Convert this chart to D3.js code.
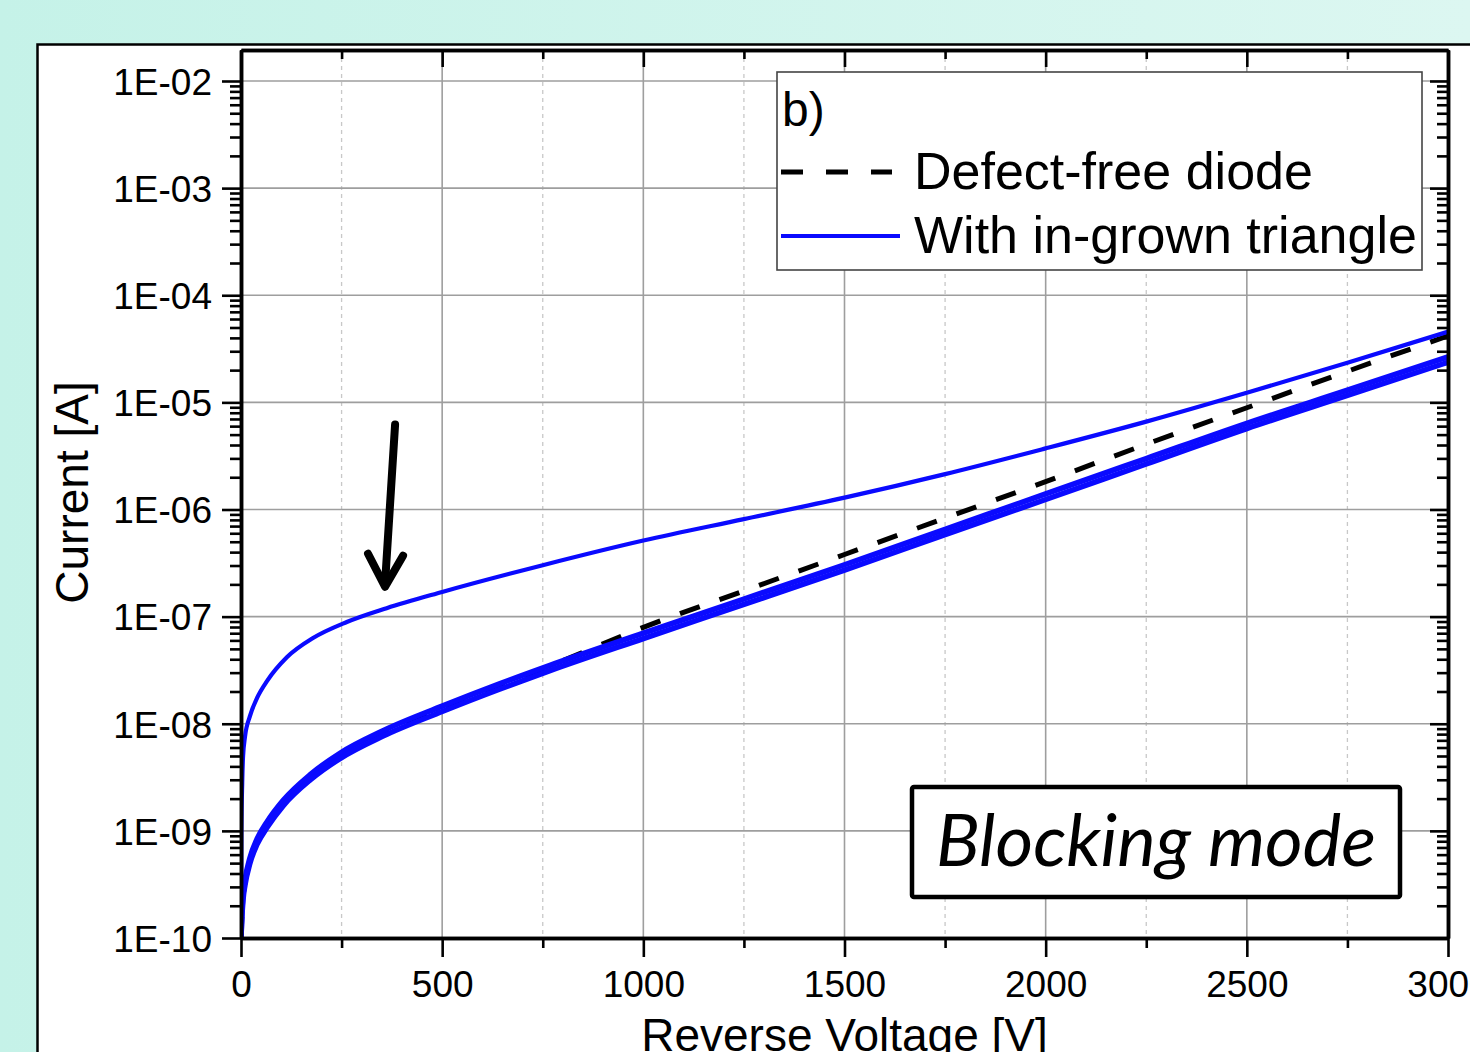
<!DOCTYPE html>
<html>
<head>
<meta charset="utf-8">
<script src="https://cdn.jsdelivr.net/npm/d3@7"></script>
<style>
  html, body { margin: 0; padding: 0; overflow: hidden; background: #c6f3e9; }
  svg { display: block; }
</style>
</head>
<body>
<script>
// ---------------- DATA ----------------
// Reverse voltage (V) and current (A)
const upperVoltage = [0, 1, 3, 5, 10, 22, 40, 65, 114, 179, 263, 362, 500, 750, 1000, 1250, 1500, 1750, 2000, 2250, 2500, 2750, 3000];
const upperCurrent = [1e-10, 1e-9, 2.82e-9, 4.90e-9, 7.59e-9, 1.17e-8, 1.74e-8, 2.51e-8, 4.17e-8, 6.31e-8, 8.91e-8, 1.20e-7, 1.70e-7, 3.02e-7, 5.13e-7, 8.13e-7, 1.29e-6, 2.14e-6, 3.72e-6, 6.61e-6, 1.23e-5, 2.34e-5, 4.57e-5];

const lowerVoltage = [0, 2, 5, 10, 22, 40, 65, 105, 172, 246, 353, 500, 644, 768, 1000, 1250, 1500, 1750, 2000, 2250, 2500, 2750, 3000];
const lowerCurrentA = [1e-10, 1.68e-10, 2.54e-10, 3.51e-10, 5.56e-10, 8.41e-10, 1.22e-9, 1.93e-9, 3.35e-9, 5.31e-9, 8.61e-9, 1.46e-8, 2.37e-8, 3.51e-8, 7.00e-8, 1.46e-7, 3.05e-7, 6.53e-7, 1.40e-6, 2.99e-6, 6.38e-6, 1.30e-5, 2.66e-5];
const lowerCurrentB = [1e-10, 1.50e-10, 2.26e-10, 3.13e-10, 4.95e-10, 7.50e-10, 1.08e-9, 1.72e-9, 2.99e-9, 4.73e-9, 7.67e-9, 1.30e-8, 2.11e-8, 3.13e-8, 6.24e-8, 1.30e-7, 2.72e-7, 5.82e-7, 1.24e-6, 2.66e-6, 5.69e-6, 1.16e-5, 2.37e-5];

const defectFreeVoltage = [0, 2, 5, 10, 22, 40, 65, 105, 172, 246, 353, 500, 644, 768, 1000, 1250, 1500, 1750, 2000, 2250, 2500, 2750, 3000];
const defectFreeCurrent = [1e-10, 1.58e-10, 2.40e-10, 3.31e-10, 5.25e-10, 7.94e-10, 1.15e-9, 1.82e-9, 3.16e-9, 5.01e-9, 8.13e-9, 1.38e-8, 2.29e-8, 3.47e-8, 7.94e-8, 1.74e-7, 3.80e-7, 8.32e-7, 1.82e-6, 4.07e-6, 8.91e-6, 1.95e-5, 4.17e-5];

const xTickValues = [0, 500, 1000, 1500, 2000, 2500, 3000];
const xTickLabels = ["0", "500", "1000", "1500", "2000", "2500", "3000"];
const xMinorValues = [250, 750, 1250, 1750, 2250, 2750];
const yTickValues = [1e-2, 1e-3, 1e-4, 1e-5, 1e-6, 1e-7, 1e-8, 1e-9, 1e-10];
const yTickLabels = ["1E-02", "1E-03", "1E-04", "1E-05", "1E-06", "1E-07", "1E-08", "1E-09", "1E-10"];

const legendTitle = "b)";
const seriesNames = ["Defect-free diode", "With in-grown triangle"];
const xTitle = "Reverse Voltage [V]";
const yTitle = "Current [A]";
const boxText = "Blocking mode";
// annotation arrow (data units): tail and tip
const arrowTail = [383, 6.2e-6];
const arrowTip = [358, 1.9e-7];

// ---------------- CHART ----------------
const W = 1470, H = 1052;
const FONT = "'Liberation Sans', Arial, Helvetica, sans-serif";
const svg = d3.select("body").append("svg").attr("width", W).attr("height", H);

const defs = svg.append("defs");
const grad = defs.append("linearGradient").attr("id", "bg").attr("x1", "0").attr("x2", "1").attr("y1", "0").attr("y2", "0");
grad.append("stop").attr("offset", "0").attr("stop-color", "#c5f2e8");
grad.append("stop").attr("offset", "1").attr("stop-color", "#dcf7f1");
svg.append("rect").attr("width", W).attr("height", H).attr("fill", "url(#bg)");

// white panel
svg.append("rect").attr("x", 37.5).attr("y", 44.5).attr("width", W + 10).attr("height", H + 10)
  .attr("fill", "#fff").attr("stroke", "#000").attr("stroke-width", 2.5);

const x = d3.scaleLinear().domain([0, 3000]).range([241, 1448]);
const y = d3.scaleLog().domain([1e-10, 1.947e-2]).range([938, 50]);
const [x0, x1] = x.range();
const [yb, yt] = y.range();

defs.append("clipPath").attr("id", "plotclip").append("rect")
  .attr("x", x0).attr("y", yt).attr("width", x1 - x0).attr("height", yb - yt);

// grid
const grid = svg.append("g");
grid.selectAll(".vminor").data(xMinorValues).join("line")
  .attr("x1", d => x(d)).attr("x2", d => x(d)).attr("y1", yt).attr("y2", yb)
  .attr("stroke", "#c8c8c8").attr("stroke-width", 1.3).attr("stroke-dasharray", "4,4");
grid.selectAll(".vmajor").data(xTickValues.slice(1, -1)).join("line")
  .attr("x1", d => x(d)).attr("x2", d => x(d)).attr("y1", yt).attr("y2", yb)
  .attr("stroke", "#9e9e9e").attr("stroke-width", 1.6);
grid.selectAll(".hmajor").data(yTickValues.slice(0, -1)).join("line")
  .attr("x1", x0).attr("x2", x1).attr("y1", d => y(d)).attr("y2", d => y(d))
  .attr("stroke", "#9e9e9e").attr("stroke-width", 1.6);

// curves
const line = d3.line().x(d => x(d[0])).y(d => y(d[1])).curve(d3.curveMonotoneX);
const zip = (a, b) => a.map((v, i) => [v, b[i]]);
const curves = svg.append("g").attr("clip-path", "url(#plotclip)");
curves.append("path").attr("d", line(zip(defectFreeVoltage, defectFreeCurrent)))
  .attr("fill", "none").attr("stroke", "#000").attr("stroke-width", 5).attr("stroke-dasharray", "21,21");
curves.append("path").attr("d", line(zip(lowerVoltage, lowerCurrentA)))
  .attr("fill", "none").attr("stroke", "#0a0aff").attr("stroke-width", 5.5);
curves.append("path").attr("d", line(zip(lowerVoltage, lowerCurrentB)))
  .attr("fill", "none").attr("stroke", "#0a0aff").attr("stroke-width", 5.5);
curves.append("path").attr("d", line(zip(upperVoltage, upperCurrent)))
  .attr("fill", "none").attr("stroke", "#0a0aff").attr("stroke-width", 4.2);

// minor log ticks
const yMinor = [];
for (let e = -10; e < -2; e++) for (let m = 2; m <= 9; m++) yMinor.push(m * Math.pow(10, e));

function styleAxis(g, w) {
  g.select(".domain").attr("stroke", "#000").attr("stroke-width", w);
  g.selectAll(".tick line").attr("stroke", "#000").attr("stroke-width", 2.6);
  g.selectAll("text").attr("font-family", FONT).attr("font-size", 37).attr("fill", "#000");
}

// left
svg.append("g").attr("transform", `translate(${x0},0)`)
  .call(d3.axisLeft(y).tickValues(yMinor).tickSize(11).tickSizeOuter(0).tickFormat(""))
  .call(g => styleAxis(g, 3.5));
svg.append("g").attr("transform", `translate(${x0},0)`)
  .call(d3.axisLeft(y).tickValues(yTickValues).tickSize(19).tickSizeOuter(0).tickPadding(10)
    .tickFormat((d, i) => yTickLabels[i]))
  .call(g => styleAxis(g, 3.5))
  .call(g => g.selectAll("text").attr("dy", "0.36em"));
// right
svg.append("g").attr("transform", `translate(${x1},0)`)
  .call(d3.axisRight(y).tickValues(yMinor).tickSize(-11).tickSizeOuter(0).tickFormat(""))
  .call(g => styleAxis(g, 3.5));
svg.append("g").attr("transform", `translate(${x1},0)`)
  .call(d3.axisRight(y).tickValues(yTickValues).tickSize(-18).tickSizeOuter(0).tickFormat(""))
  .call(g => styleAxis(g, 3.5));
// bottom
svg.append("g").attr("transform", `translate(0,${yb})`)
  .call(d3.axisBottom(x).tickValues(xMinorValues).tickSize(10).tickSizeOuter(0).tickFormat(""))
  .call(g => styleAxis(g, 3.5));
svg.append("g").attr("transform", `translate(0,${yb})`)
  .call(d3.axisBottom(x).tickValues(xTickValues).tickSize(19).tickSizeOuter(0).tickPadding(14)
    .tickFormat((d, i) => xTickLabels[i]))
  .call(g => styleAxis(g, 3.5));
// top
svg.append("g").attr("transform", `translate(0,${yt})`)
  .call(d3.axisTop(x).tickValues(xMinorValues).tickSize(-9).tickSizeOuter(0).tickFormat(""))
  .call(g => styleAxis(g, 3.5));
svg.append("g").attr("transform", `translate(0,${yt})`)
  .call(d3.axisTop(x).tickValues(xTickValues).tickSize(-17).tickSizeOuter(0).tickFormat(""))
  .call(g => styleAxis(g, 3.5));

// axis titles
svg.append("text").attr("x", (x0 + x1) / 2).attr("y", 1051).attr("text-anchor", "middle")
  .attr("font-family", FONT).attr("font-size", 46).text(xTitle);
svg.append("text").attr("transform", `translate(88,${(y(1e-5) + y(1e-7)) / 2 - 17}) rotate(-90)`)
  .attr("text-anchor", "middle").attr("font-family", FONT).attr("font-size", 46).text(yTitle);

// legend
const lg = svg.append("g");
lg.append("rect").attr("x", 777).attr("y", 72).attr("width", 645).attr("height", 198)
  .attr("fill", "#fff").attr("stroke", "#444").attr("stroke-width", 1.6);
lg.append("text").attr("x", 782).attr("y", 126).attr("font-family", FONT).attr("font-size", 48).text(legendTitle);
lg.append("line").attr("x1", 781).attr("x2", 892).attr("y1", 172).attr("y2", 172)
  .attr("stroke", "#000").attr("stroke-width", 5).attr("stroke-dasharray", "22,23");
lg.append("line").attr("x1", 781).attr("x2", 900).attr("y1", 236).attr("y2", 236)
  .attr("stroke", "#0a0aff").attr("stroke-width", 4);
lg.append("text").attr("x", 914).attr("y", 189).attr("font-family", FONT).attr("font-size", 52).text(seriesNames[0]);
lg.append("text").attr("x", 914).attr("y", 253).attr("font-family", FONT).attr("font-size", 52).text(seriesNames[1]);

// Blocking mode box
const bx = svg.append("g");
bx.append("rect").attr("x", 912).attr("y", 787).attr("width", 488).attr("height", 110).attr("rx", 2)
  .attr("fill", "#fff").attr("stroke", "#000").attr("stroke-width", 4.5);
const bt = bx.append("text").attr("x", 1156).attr("y", 866).attr("text-anchor", "middle")
  .attr("font-family", "Lato, 'Open Sans', sans-serif").attr("font-style", "italic")
  .attr("font-size", 62).text(boxText);
const tw = bt.node().getComputedTextLength();
if (tw > 0) bt.attr("font-size", 62 * 440 / tw);

// arrow annotation
const ax0 = x(arrowTail[0]), ay0 = y(arrowTail[1]), ax1 = x(arrowTip[0]), ay1 = y(arrowTip[1]);
const ag = svg.append("g").attr("stroke", "#000").attr("stroke-width", 8).attr("fill", "none")
  .attr("stroke-linecap", "round").attr("stroke-linejoin", "round");
ag.append("path").attr("d", `M${ax0},${ay0}L${ax1},${ay1 - 3}`);
ag.append("path").attr("d", `M${ax1 - 17},${ay1 - 33}L${ax1},${ay1}L${ax1 + 18},${ay1 - 31}`);
</script>
</body>
</html>
